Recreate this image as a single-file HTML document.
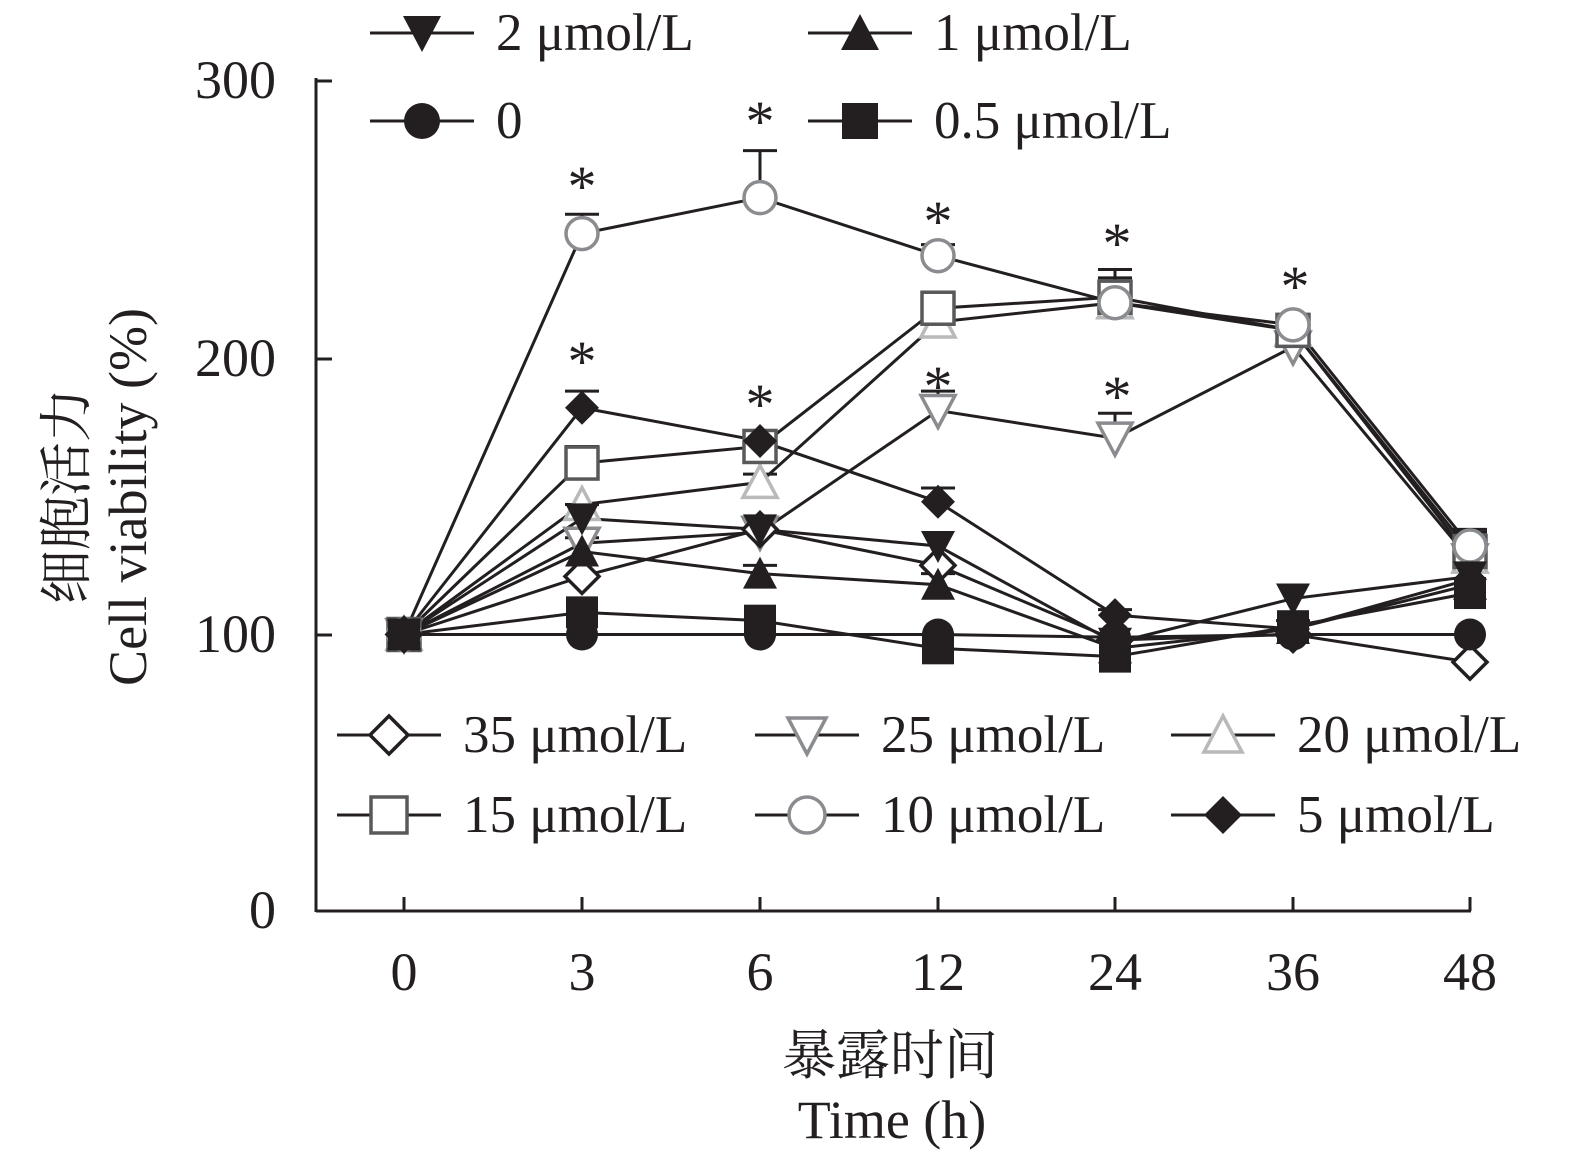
<!DOCTYPE html>
<html><head><meta charset="utf-8">
<style>
html,body{margin:0;padding:0;background:#fff;}
svg{display:block;font-family:"Liberation Serif","Noto Serif CJK SC",serif;}
</style></head>
<body>
<svg id="s" width="1575" height="1161" viewBox="0 0 1575 1161" xmlns="http://www.w3.org/2000/svg">
<g stroke="#231f20" stroke-width="3" fill="none">
<line x1="316" y1="78" x2="316" y2="912"/>
<line x1="316" y1="911" x2="1471" y2="911"/>
<line x1="316" y1="81" x2="332" y2="81"/>
<line x1="316" y1="359" x2="332" y2="359"/>
<line x1="316" y1="635" x2="332" y2="635"/>
<line x1="404" y1="911" x2="404" y2="897"/><line x1="582" y1="911" x2="582" y2="897"/>
<line x1="760" y1="911" x2="760" y2="897"/><line x1="938" y1="911" x2="938" y2="897"/>
<line x1="1115" y1="911" x2="1115" y2="897"/><line x1="1293" y1="911" x2="1293" y2="897"/>
<line x1="1470" y1="911" x2="1470" y2="897"/>
</g>
<g font-size="54" fill="#231f20" text-anchor="end">
<text x="276" y="98">300</text><text x="276" y="376">200</text><text x="276" y="652">100</text><text x="276" y="928">0</text>
</g>
<g font-size="54" fill="#231f20" text-anchor="middle">
<text x="404" y="990">0</text><text x="582" y="990">3</text><text x="760" y="990">6</text><text x="938" y="990">12</text>
<text x="1115" y="990">24</text><text x="1293" y="990">36</text><text x="1470" y="990">48</text>
<text x="890" y="1074">暴露时间</text>
<text x="892" y="1138">Time (h)</text>
</g>
<g font-size="54" fill="#231f20" text-anchor="middle">
<text transform="translate(85,496) rotate(-90)">细胞活力</text>
<text transform="translate(146,497) rotate(-90)">Cell viability (%)</text>
</g>
<g id="plot"></g>
<g id="leg"></g>
</svg>
<script>
const X=[404,582,760,938,1115,1293,1470];
const Y=v=>911-v*2.765;
const NS="http://www.w3.org/2000/svg";
function el(p,t,a){const e=document.createElementNS(NS,t);for(const k in a)e.setAttribute(k,a[k]);p.appendChild(e);return e;}
const B="#231f20",G1="#8a8c8f",G2="#b8b9bb",G3="#58595b";
function marker(p,type,x,y,col,r){r=r||17;
 const fill=col.f?col.c:"#fff", st=col.c, sw=col.f?0:3.5;
 const a={fill:fill,stroke:st,"stroke-width":sw};
 if(col.f){a.stroke="none";}
 if(type=="c")el(p,"circle",Object.assign({cx:x,cy:y,r:r-1},a));
 else if(type=="s")el(p,"rect",Object.assign({x:x-r+1,y:y-r+1,width:2*r-2,height:2*r-2},a));
 else if(type=="d")el(p,"polygon",Object.assign({points:`${x},${y-r} ${x+r},${y} ${x},${y+r} ${x-r},${y}`},a));
 else if(type=="t")el(p,"polygon",Object.assign({points:`${x},${y-r} ${x+r},${y+r-2} ${x-r},${y+r-2}`},a));
 else if(type=="v")el(p,"polygon",Object.assign({points:`${x},${y+r} ${x+r},${y-r+2} ${x-r},${y-r+2}`},a));
}
const S=[
 ["v",G1,0,[100,133,137,181,171,204,127],[0,0,0,7,9,0,0]],
 ["t",G2,0,[100,147,155,213,220,210,128],[0,0,3,0,0,0,0]],
 ["s",G3,0,[100,162,168,218,222,210,130],[0,6,5,0,10,2,7]],
 ["c",G1,0,[100,245,258,237,220,212,132],[0,7,17,4,9,1,6]],
 ["d",B,0,[100,121,138,125,98,100,90],[0,0,0,0,0,0,0]],
 ["d",B,1,[100,182,170,148,107,102,120],[0,6,0,5,2,0,0]],
 ["v",B,1,[100,142,138,132,97,113,121],[0,5,0,0,0,0,10]],
 ["t",B,1,[100,130,122,118,95,102,118],[0,5,3,4,3,3,0]],
 ["s",B,1,[100,108,105,95,92,103,115],[0,0,0,0,0,0,0]],
 ["c",B,1,[100,100,100,100,99,100,100],[0,0,0,0,0,0,0]],
];
const P=document.getElementById("plot");
S.forEach(s=>{el(P,"polyline",{points:s[3].map((v,i)=>X[i]+","+Y(v)).join(" "),fill:"none",stroke:B,"stroke-width":3});});
S.forEach(s=>{s[3].forEach((v,i)=>{if(s[4][i]>0){const y=Y(v),ye=Y(v+s[4][i]);
 el(P,"line",{x1:X[i],y1:y,x2:X[i],y2:ye,stroke:B,"stroke-width":3});
 el(P,"line",{x1:X[i]-17,y1:ye,x2:X[i]+17,y2:ye,stroke:B,"stroke-width":3});}});});
S.forEach(s=>{s[3].forEach((v,i)=>marker(P,s[0],X[i],Y(v),{c:s[1],f:s[2]}));});
[[582,182],[582,357],[760,117],[760,400],[938,217],[938,382],[1117,239],[1117,392],[1295,282]].forEach(a=>{
 const t=el(P,"text",{x:a[0],y:a[1]+24,"font-size":58,"text-anchor":"middle",fill:B});t.textContent="*";});
const L=document.getElementById("leg");
function leg(x,y,type,col,f,label){el(L,"line",{x1:x-52,y1:y,x2:x+52,y2:y,stroke:B,"stroke-width":3});
 marker(L,type,x,y,{c:col,f:f},19);const t=el(L,"text",{x:x+74,y:y+17,"font-size":53,fill:B});t.textContent=label;}
leg(422,33,"v",B,1,"2 μmol/L");leg(860,33,"t",B,1,"1 μmol/L");
leg(422,121,"c",B,1,"0");leg(860,121,"s",B,1,"0.5 μmol/L");
leg(389,735,"d",B,0,"35 μmol/L");leg(807,735,"v",G1,0,"25 μmol/L");leg(1223,735,"t",G2,0,"20 μmol/L");
leg(389,815,"s",G3,0,"15 μmol/L");leg(807,815,"c",G1,0,"10 μmol/L");leg(1223,815,"d",B,1,"5 μmol/L");
</script>
</body></html>
